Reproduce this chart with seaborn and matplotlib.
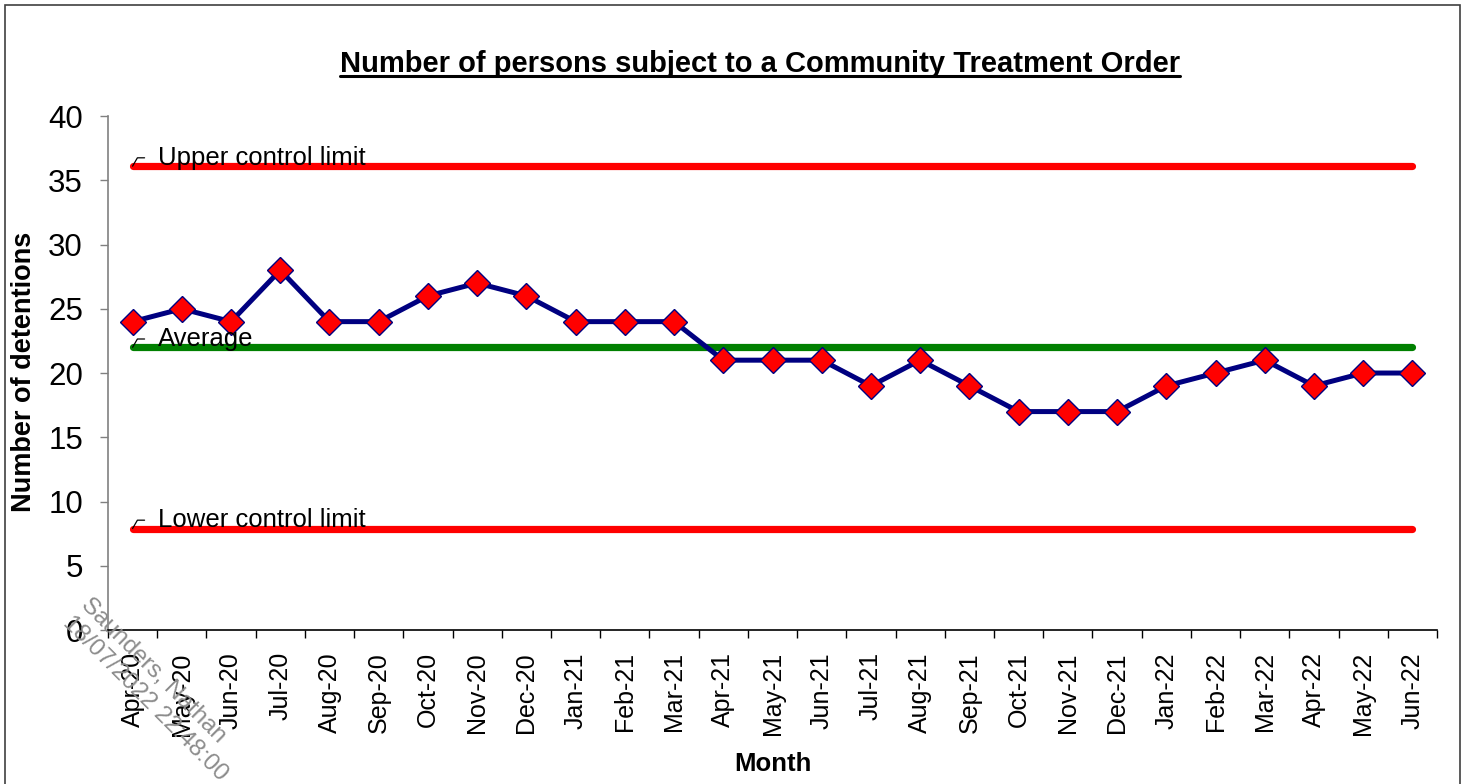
import matplotlib
matplotlib.use("Agg")
import matplotlib.pyplot as plt
from matplotlib.patches import Rectangle
from matplotlib.lines import Line2D
import numpy as np
import pandas as pd
import seaborn as sns

months = ["Apr-20", "May-20", "Jun-20", "Jul-20", "Aug-20", "Sep-20", "Oct-20",
          "Nov-20", "Dec-20", "Jan-21", "Feb-21", "Mar-21", "Apr-21", "May-21",
          "Jun-21", "Jul-21", "Aug-21", "Sep-21", "Oct-21", "Nov-21", "Dec-21",
          "Jan-22", "Feb-22", "Mar-22", "Apr-22", "May-22", "Jun-22"]
persons = [24, 25, 24, 28, 24, 24, 26, 27, 26, 24, 24, 24, 21, 21, 21, 19,
           21, 19, 17, 17, 17, 19, 20, 21, 19, 20, 20]
upper_limit = 36.1
average = 22.0
lower_limit = 7.9

sns.set_style("white")
plt.rcParams['font.family'] = ['Liberation Sans', 'DejaVu Sans']
plt.rcParams['text.color'] = 'black'
plt.rcParams['axes.labelcolor'] = 'black'
plt.rcParams['xtick.labelcolor'] = 'black'
plt.rcParams['ytick.labelcolor'] = 'black'

pos = np.arange(len(months))
df = pd.DataFrame({"pos": pos, "month": months, "persons": persons})

fig = plt.figure(figsize=(14.67, 7.84), dpi=100)
ax = fig.add_axes([0.0736, 0.1964, 0.906, 0.6556])

# control limit / average lines from first to last month
ends = [pos[0], pos[-1]]
for val, col in [(upper_limit, "#ff0000"), (lower_limit, "#ff0000"), (average, "#008000")]:
    ax.plot(ends, [val, val], color=col, lw=5.2, solid_capstyle="round", zorder=2)

sns.lineplot(data=df, x="pos", y="persons", sort=False, ax=ax, color="#000080",
             lw=3.6, marker="D", markersize=13, markerfacecolor="#ff0000",
             markeredgecolor="#000080", markeredgewidth=1, zorder=3)

# line labels with small leader
for val, lab in [(upper_limit, "Upper control limit"), (average, "Average"),
                 (lower_limit, "Lower control limit")]:
    ax.annotate(lab, xy=(pos[0], val), xytext=(18, 6), textcoords="offset points",
                fontsize=18.5, ha="left", va="center", zorder=4,
                arrowprops=dict(arrowstyle="-", lw=0.9, color="black",
                                connectionstyle="angle,angleA=0,angleB=60,rad=0",
                                relpos=(0, 0.5), shrinkA=7, shrinkB=0))

ax.set_xlim(-0.5, len(months) - 0.5)
ax.set_ylim(0, 40)
ax.set_yticks(np.arange(0, 41, 5))
ax.set_xticks(pos)
ax.set_xticklabels(months)
ax.set_xticks(np.arange(-0.5, len(months), 1), minor=True)
ax.tick_params(axis="x", which="major", length=0, pad=16, labelsize=18, labelrotation=90)
ax.tick_params(axis="x", which="minor", length=6, width=1, color="black", direction="out", bottom=True)
ax.tick_params(axis="y", length=6, width=1, color="#808080", direction="out", pad=12,
               labelsize=22.5, left=True)

sns.despine(ax=ax)
ax.spines["left"].set_color("#808080")
ax.spines["bottom"].set_color("black")
ax.spines["left"].set_linewidth(1.2)
ax.spines["bottom"].set_linewidth(1.2)

ax.set_xlabel("Month", fontsize=18.5, fontweight="bold")
ax.set_ylabel("Number of detentions", fontsize=19.5, fontweight="bold")
ax.xaxis.set_label_coords(0.5, -0.237)
ax.yaxis.set_label_coords(-0.0534, 0.502)

title = fig.text(0.518, 0.919, "Number of persons subject to a Community Treatment Order",
                 ha="center", va="center", fontsize=21, fontweight="bold")

# watermark
fig.text(0.063, 0.242, "Saunders, Nathan\n18/07/2022 22:48:00", rotation=-45,
         rotation_mode="anchor", ha="left", va="top", multialignment="left",
         fontsize=17.5, color="#8c8c8c", zorder=10)

# outer frame
fig.patches.append(Rectangle((5 / 1467, -0.01), 1455 / 1467, 1 - 5 / 784 + 0.01,
                             transform=fig.transFigure, fill=False, lw=1.2,
                             edgecolor="#404040"))

# underline title
fig.canvas.draw()
bb = title.get_window_extent().transformed(fig.transFigure.inverted())
fig.lines.append(Line2D([bb.x0, bb.x1], [bb.y0 + 0.002, bb.y0 + 0.002],
                        transform=fig.transFigure, color="black", lw=2.2))

fig.savefig("out.png", dpi=100)
